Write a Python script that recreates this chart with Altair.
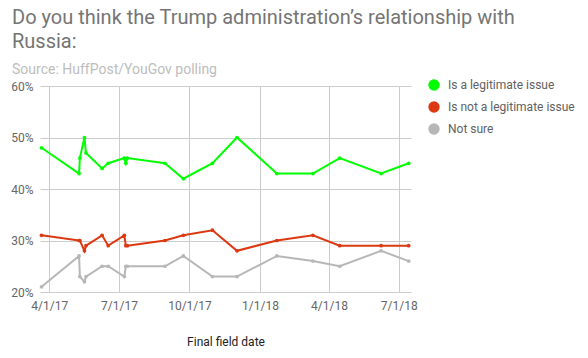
import altair as alt
import pandas as pd

# Poll final field dates
dates = ["2017-03-22", "2017-05-10", "2017-05-11", "2017-05-17", "2017-05-19",
         "2017-06-09", "2017-06-17", "2017-07-08", "2017-07-10", "2017-07-12",
         "2017-08-30", "2017-09-23", "2017-10-31", "2017-12-02", "2018-01-23",
         "2018-03-11", "2018-04-15", "2018-06-08", "2018-07-14"]
legit = [48, 43, 46, 50, 47, 44, 45, 46, 45, 46, 45, 42, 45, 50, 43, 43, 46, 43, 45]
not_legit = [31, 30, 30, 28, 29, 31, 29, 31, 29, 29, 30, 31, 32, 28, 30, 31, 29, 29, 29]
not_sure = [21, 27, 23, 22, 23, 25, 25, 23, 25, 25, 25, 27, 23, 23, 27, 26, 25, 28, 26]

series = ["Is a legitimate issue", "Is not a legitimate issue", "Not sure"]
colors = ["#00ff00", "#dc3912", "#b7b7b7"]
y_ticks = [20, 30, 40, 50, 60]
x_ticks = [(2017, 4, 1), (2017, 7, 1), (2017, 10, 1), (2018, 1, 1), (2018, 4, 1), (2018, 7, 1)]
x_domain = [(2017, 3, 20), (2018, 7, 17)]

rows = []
for vals, name in zip([legit, not_legit, not_sure], series):
    for d, v in zip(dates, vals):
        rows.append({"date": d, "series": name, "value": v})
df = pd.DataFrame(rows)


def dt(t):
    return alt.DateTime(year=t[0], month=t[1], date=t[2], utc=True)


chart = alt.Chart(df).mark_line(
    strokeWidth=2,
    point=alt.OverlayMarkDef(size=14, filled=True, opacity=1),
).encode(
    x=alt.X("date:T",
            scale=alt.Scale(type="utc", domain=[dt(t) for t in x_domain], nice=False),
            axis=alt.Axis(values=[dt(t) for t in x_ticks],
                          labelExpr="utcFormat(datum.value, '%-m/%-d/%y')",
                          title="Final field date", titleColor="#222222",
                          titleFontSize=12, titleFont="Roboto", titleFontWeight="normal",
                          titlePadding=25, labelPadding=8, ticks=False, domain=False,
                          grid=True, labelFlush=False)),
    y=alt.Y("value:Q",
            scale=alt.Scale(domain=[20, 60], nice=False, zero=False),
            axis=alt.Axis(values=y_ticks, labelExpr="datum.value + '%'",
                          title=None, ticks=False, domain=False, labelPadding=7,
                          grid=True)),
    color=alt.Color("series:N",
                    scale=alt.Scale(domain=series, range=colors),
                    legend=alt.Legend(title=None, orient="none", legendX=388, legendY=-7,
                                      symbolType="circle", symbolSize=130,
                                      symbolStrokeWidth=0, labelFontSize=12,
                                      labelColor="#616161", labelFont="Roboto",
                                      labelOffset=8, rowPadding=10, padding=0)),
    order=alt.Order("date:T"),
).properties(
    width=371,
    height=206,
    autosize=alt.AutoSizeParams(type="none"),
    padding={"left": 32, "top": 78, "right": 169, "bottom": 58},
    title=alt.TitleParams(
        text=["Do you think the Trump administration\u2019s relationship with", "Russia:"],
        subtitle="Source: HuffPost/YouGov polling",
        anchor="start", frame="group", dx=-28,
        font="Roboto", fontSize=20, fontWeight="normal", color="#757575",
        lineHeight=24, subtitleFont="Roboto", subtitleFontSize=14,
        subtitleColor="#bdbdbd", subtitlePadding=11, offset=2,
    ),
).configure_view(stroke=None).configure_axis(
    gridColor="#cccccc", gridWidth=1, labelColor="#666666", labelFont="Roboto",
    labelFontSize=12,
)

chart.save("out.html", embed_options={"renderer": "svg", "actions": False})
